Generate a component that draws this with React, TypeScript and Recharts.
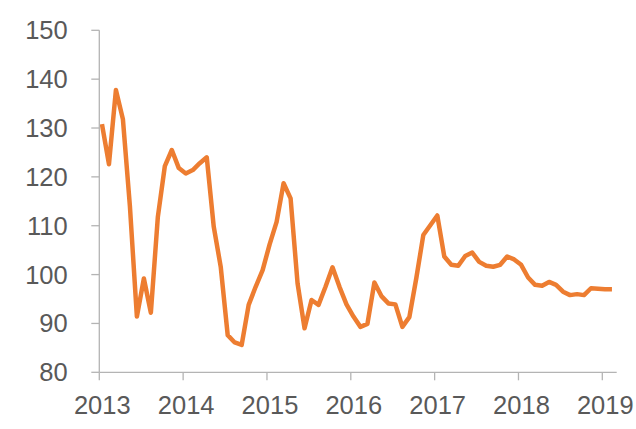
import { LineChart, Line, XAxis, YAxis } from 'recharts'

const startYear = 2013
const yearTicks = [2013, 2014, 2015, 2016, 2017, 2018, 2019]
const valueTicks = [80, 90, 100, 110, 120, 130, 140, 150]

// monthly index, Jan 2013 .. Feb 2019
const values = [
  130.8, 122.6, 137.8, 131.8, 114.0, 91.4, 99.2, 92.2, 111.8, 122.2, 125.5, 121.8,
  120.7, 121.4, 122.8, 124.0, 109.8, 101.6, 87.6, 86.1, 85.6, 93.8, 97.5, 100.9,
  106.2, 110.8, 118.7, 115.6, 98.2, 89.0, 94.8, 93.8, 97.5, 101.5, 97.5, 93.9,
  91.4, 89.3, 89.9, 98.4, 95.6, 94.1, 93.9, 89.3, 91.3, 99.3, 108.1, 110.1,
  112.1, 103.7, 102.0, 101.8, 103.8, 104.5, 102.6, 101.8, 101.6, 102.0, 103.7, 103.1,
  102.0, 99.4, 97.9, 97.7, 98.5, 97.9, 96.5, 95.8, 96.0, 95.8, 97.2, 97.1,
  97.0, 97.0,
]

const months = values.map((_, i) => {
  const y = startYear + Math.floor(i / 12)
  const m = (i % 12) + 1
  return `${y}-${m < 10 ? '0' + m : m}`
})

const data = months.map((label, i) => ({
  label,
  // points sit a little after the start of each month, like the date axis in the source
  t: i + 0.38,
  value: values[i],
}))

const axisColor = '#b4b4b4'
const textColor = '#595959'
const font = '"Liberation Sans", Arial, sans-serif'

export default function App() {
  return (
    <div style={{ position: 'absolute', left: 0, top: 0, width: 636, height: 429, background: '#fff' }}>
      <LineChart width={636} height={429} data={data} margin={{ top: 30.3, right: 19.3, bottom: 0, left: 0 }}>
        <XAxis
          dataKey="t"
          type="number"
          domain={[0, 74.06]}
          ticks={yearTicks.map((y) => (y - startYear) * 12)}
          tickFormatter={(v: number) => String(startYear + Math.round(v / 12))}
          height={56.7}
          tickSize={8}
          tickMargin={16}
          axisLine={{ stroke: axisColor, strokeWidth: 1.3 }}
          tickLine={{ stroke: axisColor, strokeWidth: 1.3 }}
          tick={{ fill: textColor, fontSize: 25.5, fontFamily: font, dx: 3 }}
          allowDataOverflow
        />
        <YAxis
          type="number"
          domain={[80, 150]}
          ticks={valueTicks}
          width={99.3}
          tickSize={8}
          tickMargin={23.6}
          axisLine={{ stroke: axisColor, strokeWidth: 1.3 }}
          tickLine={{ stroke: axisColor, strokeWidth: 1.3 }}
          tick={{ fill: textColor, fontSize: 25.5, fontFamily: font }}
          allowDataOverflow
        />
        <Line
          type="linear"
          dataKey="value"
          stroke="#ed7d31"
          strokeWidth={4.5}
          strokeLinejoin="round"
          dot={false}
          activeDot={false}
          isAnimationActive={false}
        />
      </LineChart>
    </div>
  )
}
